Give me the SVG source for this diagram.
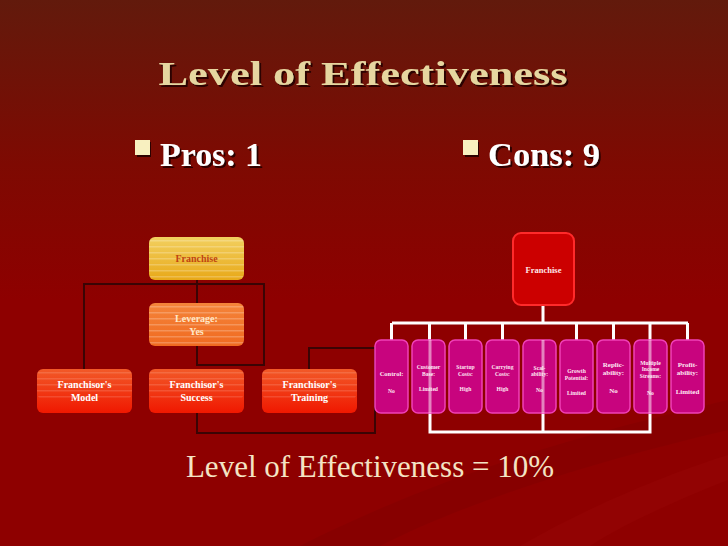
<svg xmlns="http://www.w3.org/2000/svg" width="728" height="546" viewBox="0 0 728 546">
<defs>
<linearGradient id="bg" x1="0" y1="0" x2="0" y2="1">
<stop offset="0" stop-color="#621a0c"/>
<stop offset="0.3" stop-color="#7e0a02"/>
<stop offset="0.55" stop-color="#8e0000"/>
<stop offset="1" stop-color="#8e0000"/>
</linearGradient>
<linearGradient id="gold" x1="0" y1="0" x2="0" y2="1">
<stop offset="0" stop-color="#f2d060"/>
<stop offset="1" stop-color="#e8a818"/>
</linearGradient>
<linearGradient id="orng" x1="0" y1="0" x2="0" y2="1">
<stop offset="0" stop-color="#f4843a"/>
<stop offset="1" stop-color="#f06a20"/>
</linearGradient>
<linearGradient id="red" x1="0" y1="0" x2="0" y2="1">
<stop offset="0" stop-color="#f25a28"/>
<stop offset="1" stop-color="#f01800"/>
</linearGradient>
<pattern id="stripe" width="8" height="6" patternUnits="userSpaceOnUse">
<rect x="0" y="0" width="8" height="1.5" fill="#ffffff" fill-opacity="0.22"/>
</pattern>
<filter id="sh" x="-5%" y="-20%" width="110%" height="140%">
<feDropShadow dx="2" dy="2" stdDeviation="0.6" flood-color="#200000" flood-opacity="0.9"/>
</filter>
</defs>
<style>
.title{font-family:"Liberation Serif",serif;font-weight:bold;fill:#e6d6a0}
.bul{font-family:"Liberation Serif",serif;font-weight:bold;fill:#ffffff}
.bt{font-family:"Liberation Serif",serif;font-weight:bold;fill:#ffffff;font-size:10px;text-anchor:middle}
.pt{font-family:"Liberation Serif",serif;font-weight:bold;fill:#ffe8f4;font-size:5.6px;text-anchor:middle}
.pt2{font-family:"Liberation Serif",serif;font-weight:bold;fill:#ffe8f4;font-size:7px;text-anchor:middle}
.pink{fill:#c8047e;stroke:#f040b8;stroke-width:1.5}
.dk{fill:none;stroke:#3a0404;stroke-width:2}
.wh{fill:none;stroke:#ffffff;stroke-width:3}
</style>
<rect x="0" y="0" width="728" height="546" fill="url(#bg)"/>
<path d="M300 546 C450 470 600 430 728 400 L728 430 C600 460 470 500 380 546 Z" fill="#7a0000" fill-opacity="0.35"/>
<path d="M520 546 C600 500 680 470 728 455 L728 480 C690 495 630 520 590 546 Z" fill="#9a0808" fill-opacity="0.35"/>

<g id="title">
<text class="title" x="363" y="85" font-size="33" text-anchor="middle" textLength="409" lengthAdjust="spacingAndGlyphs" filter="url(#sh)">Level of Effectiveness</text>
</g>
<g id="pros">
<rect x="135" y="140" width="15" height="15" fill="#f8f0c0" filter="url(#sh)"/>
<text class="bul" x="160" y="166" font-size="33" textLength="102" lengthAdjust="spacingAndGlyphs" filter="url(#sh)">Pros: 1</text>
</g>
<g id="cons">
<rect x="463" y="140" width="15" height="15" fill="#f8f0c0" filter="url(#sh)"/>
<text class="bul" x="488" y="166" font-size="33" textLength="112" lengthAdjust="spacingAndGlyphs" filter="url(#sh)">Cons: 9</text>
</g>

<g id="connectors">
<path class="dk" d="M84 369 V284 H264 V365 H197 V346 M197 280 V303 M309 369 V348 H375 V433 H197 V413"/>
<path class="wh" d="M543 305 V323 M392 323 H688 M391.5 323 V340 M429.5 323 V340 M465.5 323 V340 M502.5 323 V340 M576.5 323 V340 M613.5 323 V340 M650 323 V340 M687.5 323 V340 M430 413 V432 H650 V413 M543 413 V432"/>
</g>

<g id="l-franchise">
<rect x="149" y="237" width="95" height="43" rx="6" fill="url(#gold)"/>
<rect x="149" y="237" width="95" height="43" rx="6" fill="url(#stripe)"/>
<text class="bt" x="196.5" y="262" fill="#c04410" style="fill:#c04410">Franchise</text>
</g>
<g id="l-leverage">
<rect x="149" y="303" width="95" height="43" rx="6" fill="url(#orng)"/>
<rect x="149" y="303" width="95" height="43" rx="6" fill="url(#stripe)"/>
<text class="bt" x="196.5" y="322" style="fill:#ffe8c8">Leverage:</text>
<text class="bt" x="196.5" y="335" style="fill:#ffe8c8">Yes</text>
</g>
<g id="l-model">
<rect x="37" y="369" width="95" height="44" rx="6" fill="url(#red)"/>
<rect x="37" y="369" width="95" height="30" rx="6" fill="url(#stripe)" opacity="0.6"/>
<text class="bt" x="84.5" y="388">Franchisor's</text>
<text class="bt" x="84.5" y="401">Model</text>
</g>
<g id="l-success">
<rect x="149" y="369" width="95" height="44" rx="6" fill="url(#red)"/>
<rect x="149" y="369" width="95" height="30" rx="6" fill="url(#stripe)" opacity="0.6"/>
<text class="bt" x="196.5" y="388">Franchisor's</text>
<text class="bt" x="196.5" y="401">Success</text>
</g>
<g id="l-training">
<rect x="262" y="369" width="95" height="44" rx="6" fill="url(#red)"/>
<rect x="262" y="369" width="95" height="30" rx="6" fill="url(#stripe)" opacity="0.6"/>
<text class="bt" x="309.5" y="388">Franchisor's</text>
<text class="bt" x="309.5" y="401">Training</text>
</g>

<g id="r-franchise">
<rect x="513" y="233" width="61" height="72" rx="8" fill="#cc0000" stroke="#ff2a2a" stroke-width="2"/>
<text class="bt" x="543.5" y="273" style="font-size:8.5px;fill:#ffe8e8">Franchise</text>
</g>

<g id="c-control">
<rect class="pink" x="375" y="340" width="33" height="73" rx="6"/>
<text class="pt2" x="391.5" y="376" style="font-size:6.5px">Control:</text>
<text class="pt" x="391.5" y="393">No</text>
</g>
<g id="c-customer">
<rect class="pink" x="412" y="340" width="33" height="73" rx="6"/>
<text class="pt" x="428.5" y="369">Customer</text>
<text class="pt" x="428.5" y="376">Base:</text>
<text class="pt" x="428.5" y="391">Limited</text>
</g>
<g id="c-startup">
<rect class="pink" x="449" y="340" width="33" height="73" rx="6"/>
<text class="pt" x="465.5" y="369">Startup</text>
<text class="pt" x="465.5" y="376">Costs:</text>
<text class="pt" x="465.5" y="391">High</text>
</g>
<g id="c-carrying">
<rect class="pink" x="486" y="340" width="33" height="73" rx="6"/>
<text class="pt" x="502.5" y="369">Carrying</text>
<text class="pt" x="502.5" y="376">Costs:</text>
<text class="pt" x="502.5" y="391">High</text>
</g>
<g id="c-scal">
<rect class="pink" x="523" y="340" width="33" height="73" rx="6"/>
<text class="pt" x="539.5" y="370">Scal-</text>
<text class="pt" x="539.5" y="376">ability:</text>
<text class="pt" x="539.5" y="392">No</text>
</g>
<g id="c-growth">
<rect class="pink" x="560" y="340" width="33" height="73" rx="6"/>
<text class="pt" x="576.5" y="373">Growth</text>
<text class="pt" x="576.5" y="380">Potential:</text>
<text class="pt" x="576.5" y="395">Limited</text>
</g>
<g id="c-replic">
<rect class="pink" x="597" y="340" width="33" height="73" rx="6"/>
<text class="pt2" x="613.5" y="367">Replic-</text>
<text class="pt2" x="613.5" y="375">ability:</text>
<text class="pt2" x="613.5" y="393">No</text>
</g>
<g id="c-multiple">
<rect class="pink" x="634" y="340" width="33" height="73" rx="6"/>
<text class="pt" x="650.5" y="365">Multiple</text>
<text class="pt" x="650.5" y="371">Income</text>
<text class="pt" x="650.5" y="378">Streams:</text>
<text class="pt" x="650.5" y="395">No</text>
</g>
<g id="c-profit">
<rect class="pink" x="671" y="340" width="33" height="73" rx="6"/>
<text class="pt2" x="687.5" y="367">Profit-</text>
<text class="pt2" x="687.5" y="375">ability:</text>
<text class="pt2" x="687.5" y="394">Limited</text>
</g>
<g id="overlay-lines">
<path d="M430 340 V413 M543 340 V413 M650 340 V413" stroke="#ffffff" stroke-opacity="0.5" stroke-width="3" fill="none"/>
</g>

<g id="result">
<text x="370" y="477" font-family="'Liberation Serif',serif" font-size="31" fill="#f4e4c4" text-anchor="middle">Level of Effectiveness = 10%</text>
</g>
</svg>
